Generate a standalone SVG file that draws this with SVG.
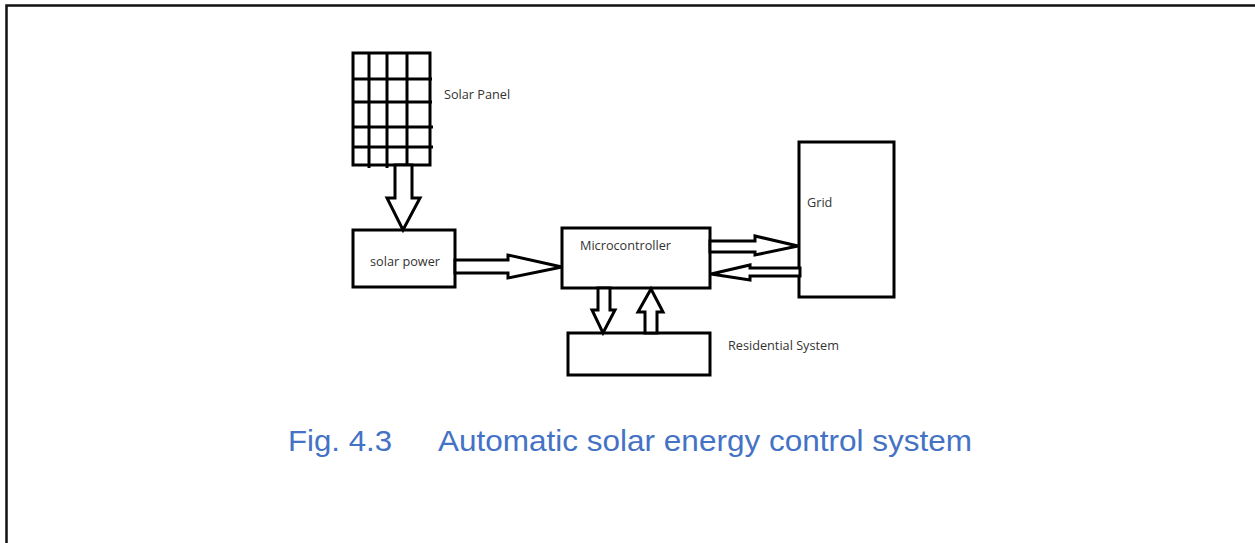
<svg xmlns="http://www.w3.org/2000/svg" width="1255" height="543" viewBox="0 0 1255 543">
<style>
.box{fill:#fff;stroke:#000;stroke-width:3}
.ln{stroke:#000;stroke-width:3;fill:none}
.arr{fill:#fff;stroke:#000;stroke-width:3;stroke-linejoin:miter}
.lbl{font-family:"Open Sans","Liberation Sans",sans-serif;font-size:12.7px;fill:#333}
.cap{font-family:"Liberation Sans",Arial,sans-serif;font-size:30px;fill:#4472C4}
</style>
<rect width="1255" height="543" fill="#fff"/>
<path d="M6.5 543V5.5H1255" stroke="#111" stroke-width="2.5" fill="none"/>
<g id="solar-panel">
<rect class="box" x="353" y="53" width="77" height="112"/>
<path class="ln" d="M369 53V168M387 53V168M407 53V168M353 79H432M353 102H432M353 127H433M353 147H433"/>
<text class="lbl" x="444" y="99">Solar Panel</text>
</g>
<g id="solar-power">
<rect class="box" x="353" y="230" width="102" height="57"/>
<text class="lbl" x="405" y="266" text-anchor="middle">solar power</text>
</g>
<g id="microcontroller">
<rect class="box" x="562" y="228" width="148" height="60"/>
<text class="lbl" x="580" y="250">Microcontroller</text>
</g>
<g id="grid">
<rect class="box" x="799" y="142" width="95" height="155"/>
<text class="lbl" x="807" y="207">Grid</text>
</g>
<g id="residential-system">
<rect class="box" x="568" y="333" width="142" height="42"/>
<text class="lbl" x="728" y="350">Residential System</text>
</g>
<g id="connectors">
<polygon class="arr" points="395,165 412,165 412,198 420,198 403,230 387,198 395,198"/>
<polygon class="arr" points="455,260 508,260 508,255 562,267 508,278 508,273 455,273"/>
<polygon class="arr" points="710,241 755,241 755,236 798,246 755,255 755,252 710,252"/>
<polygon class="arr" points="800,268 750,268 750,265 711,274 750,280 750,276 800,276"/>
<polygon class="arr" points="598,288 610,288 610,310 615,310 603,333 592,310 598,310"/>
<polygon class="arr" points="645,333 657,333 657,312 663,312 651,289 638,312 645,312"/>
</g>
<g id="caption">
<text class="cap" x="288" y="451" textLength="104" lengthAdjust="spacingAndGlyphs">Fig. 4.3</text>
<text class="cap" x="438" y="451" textLength="534" lengthAdjust="spacingAndGlyphs">Automatic solar energy control system</text>
</g>
</svg>
